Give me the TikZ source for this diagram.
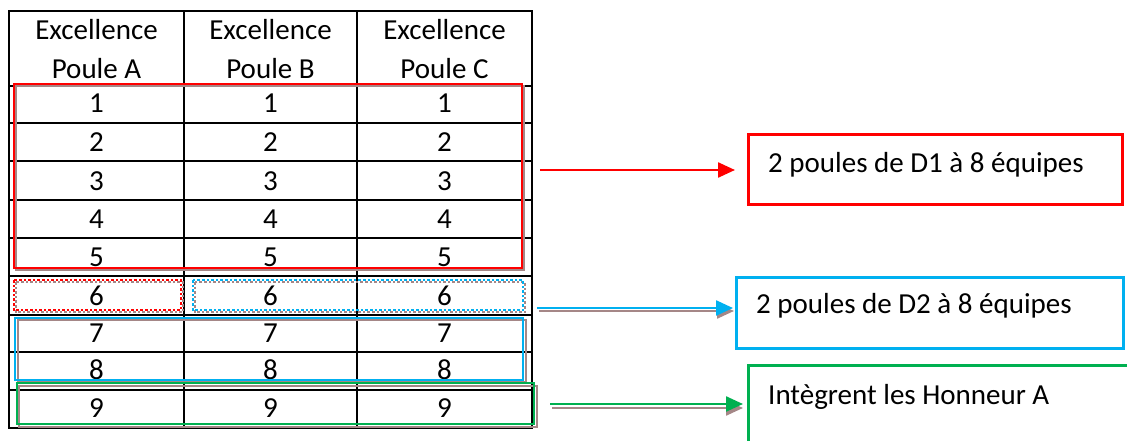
\documentclass[tikz,border=0pt]{standalone}
\usepackage{fontspec}
\setmainfont{Carlito}
\usetikzlibrary{arrows.meta}
\definecolor{rd}{RGB}{255,0,0}
\definecolor{bl}{RGB}{0,176,240}
\definecolor{gr}{RGB}{0,176,80}
\definecolor{shd}{RGB}{165,135,135}
\begin{document}
\begin{tikzpicture}[x=1pt,y=-1pt,
  cell/.style={font=\fontsize{29}{29}\selectfont, inner sep=0pt, anchor=center},
  grid/.style={line width=2pt, black},
  hl/.style={line width=2.6pt},
  shadow/.style={line width=2.6pt, shd},
  arr/.style={line width=2.4pt, -{Triangle[length=17pt,width=15pt]}},
  lbl/.style={font=\fontsize{29}{29}\selectfont, inner sep=0pt, anchor=west},
  box/.style={line width=2.6pt, minimum width=#1, inner sep=0pt, anchor=north west}
]
\useasboundingbox (0,0) rectangle (1127,441);
% table grid
\draw[grid] (9,11) rectangle (532,428);
\foreach \x in {184,357} \draw[grid] (\x,11) -- (\x,428);
\foreach \y in {86,123,161,200,238,276,315,352,390} \draw[grid] (9,\y) -- (532,\y);
% header
\foreach \c/\x/\n in {A/96.5/a,B/270.5/b,C/444.5/c}{
  \node[cell] (h1\n) at (\x,30) {Excellence};
  \node[cell] (h2\n) at (\x,69) {Poule \c};
}
% numbers
\foreach \r/\y in {1/103,2/142,3/181,4/219,5/257,6/296,7/333,8/370,9/408}{
  \node[cell] (a\r) at (96.5,\y) {\r};
  \node[cell] (b\r) at (270.5,\y) {\r};
  \node[cell] (c\r) at (444.5,\y) {\r};
}
% highlight boxes with shadows
\draw[shadow] (16,86) rectangle (524,270);
\draw[hl,rd] (14,84) rectangle (522,268);
\draw[shadow,dotted] (16,282) rectangle (183,312);
\draw[hl,rd,dotted] (14,280) rectangle (181,310);
\draw[shadow,dotted] (195,282) rectangle (525,312);
\draw[hl,bl,dotted] (193,280) rectangle (523,310);
\draw[shadow] (18,320) rectangle (526,382);
\draw[hl,bl] (15,318) rectangle (523,380);
\draw[shadow] (19,386) rectangle (537,427);
\draw[hl,gr] (17,383) rectangle (534,424);
% right boxes
\node[box=374pt, minimum height=70pt, draw=rd] (d1) at (747,133) {};
\node[lbl] (t1) at (768,165) {2 poules de D1 à 8 équipes};
\node[box=387pt, minimum height=71pt, draw=bl] (d2) at (735,276) {};
\node[lbl] (t2) at (756,306) {2 poules de D2 à 8 équipes};
\node[box=400pt, minimum height=90pt, draw=gr] (d3) at (747,364) {};
\node[lbl] (t3) at (768,397) {Intègrent les Honneur A};
% arrows
\coordinate (s1) at (540,170);
\coordinate (s2) at (537,308);
\coordinate (s2s) at (539,311);
\coordinate (s3) at (550,404);
\coordinate (s3s) at (552,408);
\draw[arr,rd] (s1) -- ([shift={(-12,0)}]s1 -| d1.west);
\draw[arr,shd] (s2s) -- ([shift={(-1,0)}]s2s -| d2.west);
\draw[arr,bl] (s2) -- ([shift={(-2,0)}]s2 -| d2.west);
\draw[arr,shd] (s3s) -- ([shift={(-4,0)}]s3s -| d3.west);
\draw[arr,gr] (s3) -- ([shift={(-4,0)}]s3 -| d3.west);
\end{tikzpicture}
\end{document}
